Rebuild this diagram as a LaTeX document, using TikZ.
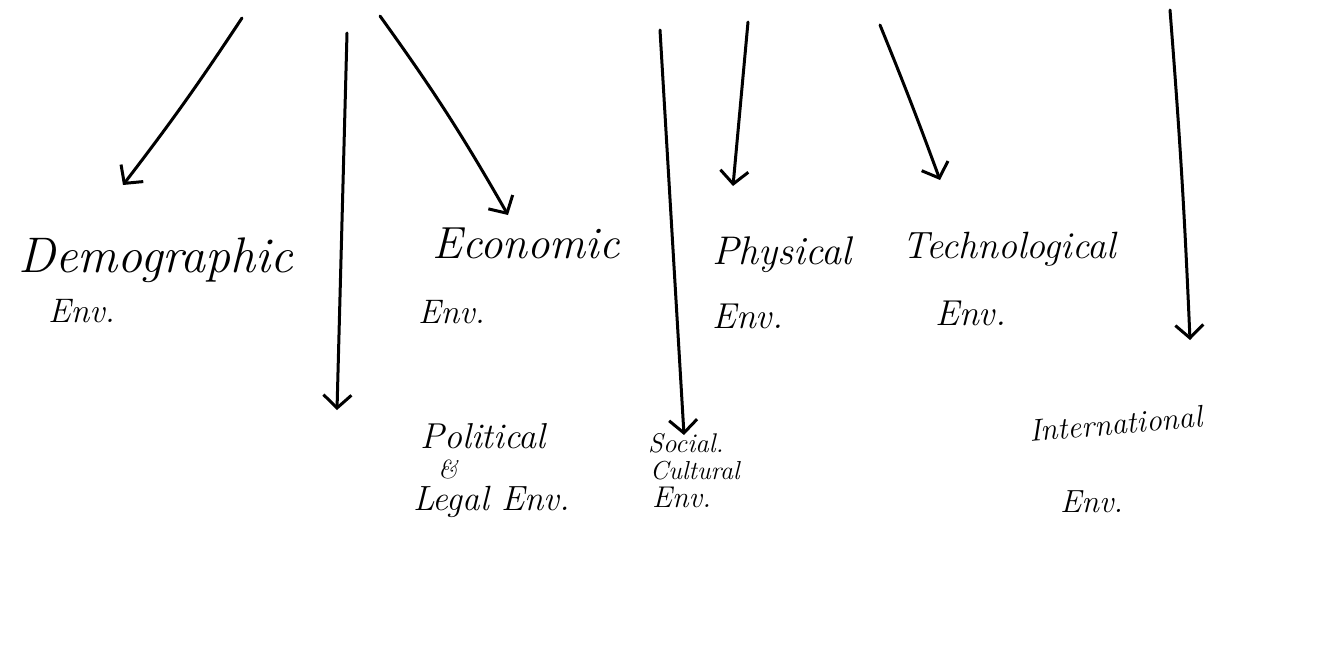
\documentclass[tikz,border=0pt]{standalone}
\usetikzlibrary{arrows.meta}
\begin{document}
\begin{tikzpicture}[x=1pt,y=-1pt,
  hand/.style={font=\fontsize{#1}{#1}\selectfont\itshape, inner sep=0pt, anchor=base west},
  arr/.style={line width=3pt, line cap=round, line join=round,
    -{Straight Barb[length=13pt,width=28pt,line width=3pt]}}]
\useasboundingbox (0,0) rectangle (1327,664);
% labels
\node[hand=50] (demo) at (18,272) {Demographic};
\node[hand=34] (demoenv) at (48,322) {Env.};
\node[hand=45] (econ) at (432,258) {Economic};
\node[hand=34] (econenv) at (418,323) {Env.};
\node[hand=40] (phys) at (712,264) {Physical};
\node[hand=36] (physenv) at (712,328) {Env.};
\node[hand=38] (tech) at (902,258) {Technological};
\node[hand=36] (techenv) at (935,325) {Env.};
\node[hand=36] (pol) at (420,448) {Political};
\node[hand=26] (amp) at (438,478) {\&};
\node[hand=35] (legal) at (413,510) {Legal Env.};
\node[hand=27] (soc) at (648,452) {Social.};
\node[hand=26] (cult) at (650,479) {Cultural};
\node[hand=30] (socenv) at (652,507) {Env.};
\node[hand=31, rotate=5] (intl) at (1030,442) {International};
\node[hand=32] (intlenv) at (1060,512) {Env.};
% arrow ends
\coordinate (s1) at (242,18);  \coordinate (e1) at (123,185);
\coordinate (s2) at (347,33);  \coordinate (e2) at (337,410);
\coordinate (s3) at (380,16);  \coordinate (e3) at (508,215);
\coordinate (s4) at (660,30);  \coordinate (e4) at (684,435);
\coordinate (s5) at (748,22);  \coordinate (e5) at (733,186);
\coordinate (s6) at (880,25);  \coordinate (e6) at (940,180);
\coordinate (s7) at (1170,10); \coordinate (e7) at (1190,340);
\draw[arr] (s1) to[bend left=2] (e1);
\draw[arr] (s2) to (e2);
\draw[arr] (s3) to[bend left=3] (e3);
\draw[arr] (s4) to (e4);
\draw[arr] (s5) to (e5);
\draw[arr] (s6) to[bend left=1] (e6);
\draw[arr] (s7) to[bend left=1] (e7);
\end{tikzpicture}
\end{document}
